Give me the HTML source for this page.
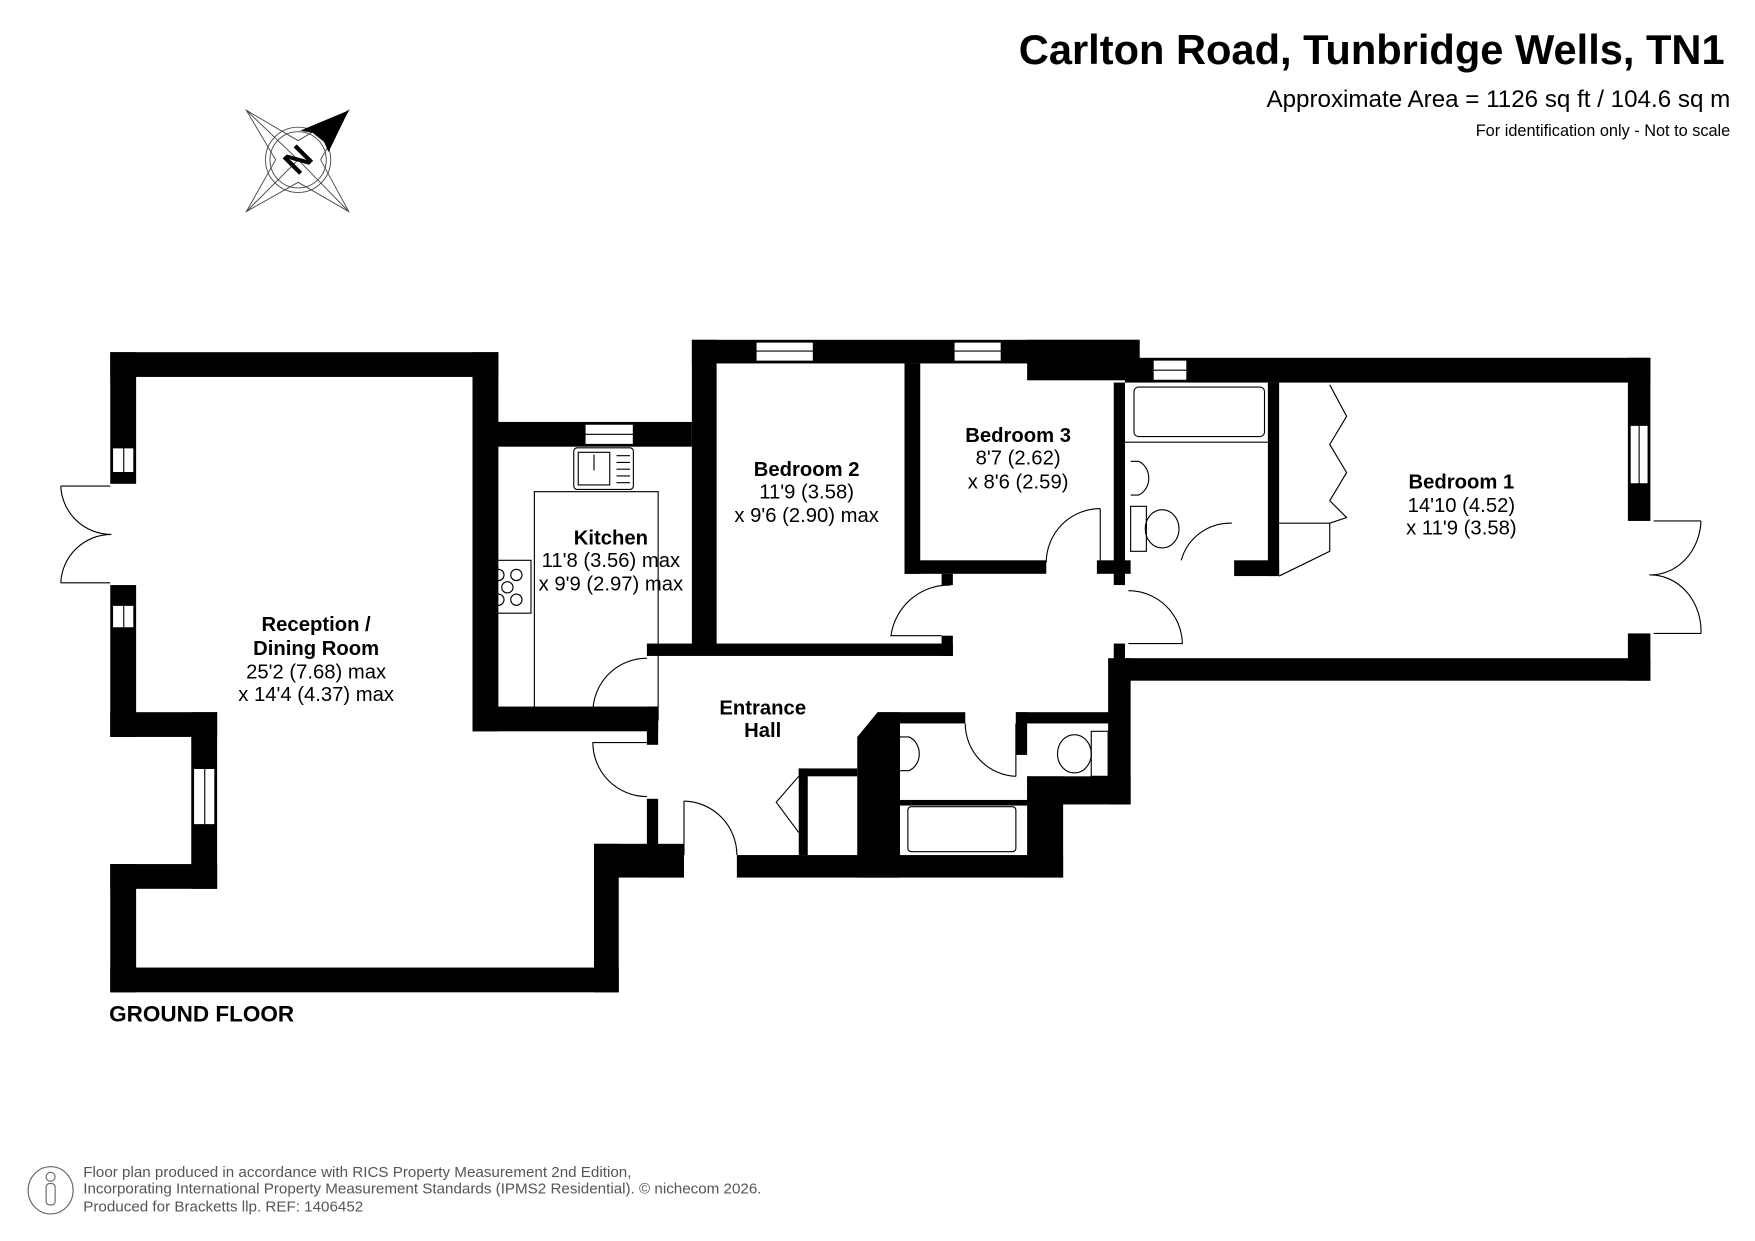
<!DOCTYPE html>
<html><head><meta charset="utf-8"><style>
html,body{margin:0;padding:0;background:#fff}
svg{display:block}
text{font-family:"Liberation Sans",Arial,sans-serif}
</style></head><body>
<svg width="1755" height="1241" viewBox="0 0 1560 1103" xmlns="http://www.w3.org/2000/svg">
<rect width="1560" height="1103" fill="#fff"/>
<!-- titles -->
<text x="1533" y="57" font-size="37" font-weight="bold" text-anchor="end">Carlton Road, Tunbridge Wells, TN1</text>
<text x="1538" y="95" font-size="21.5" text-anchor="end">Approximate Area = 1126 sq ft / 104.6 sq m</text>
<text x="1538" y="121" font-size="14.5" text-anchor="end">For identification only - Not to scale</text>
<!-- compass -->
<g stroke="#444" stroke-width="0.8" fill="none">
<polygon points="219,98 265,125 310,98 285,142 310,188 265,162 219,188 245,142"/>
<line x1="219" y1="98" x2="265" y2="142"/><line x1="219" y1="188" x2="265" y2="142"/>
<line x1="310" y1="188" x2="265" y2="142"/>
<circle cx="265" cy="142" r="29"/><circle cx="265" cy="142" r="25"/>
</g>
<polygon points="267,116 310,98 292,135 288,126 278,118" fill="#000"/>
<text x="265" y="152" font-size="30" font-weight="bold" text-anchor="middle" transform="rotate(-45 265 142)">N</text>
<!-- walls -->
<g fill="#000">
<rect x="98" y="313" width="345" height="22"/>
<rect x="98" y="313" width="23" height="117"/>
<rect x="98" y="520" width="23" height="135"/>
<rect x="98" y="633" width="95" height="22"/>
<rect x="170" y="633" width="23" height="157"/>
<rect x="98" y="768" width="95" height="22"/>
<rect x="98" y="768" width="23" height="114"/>
<rect x="98" y="860" width="452" height="22"/>
<rect x="528" y="750" width="22" height="132"/>
<rect x="528" y="750" width="80" height="30"/>
<rect x="575" y="710" width="10" height="70"/>
<rect x="420" y="313" width="23" height="337"/>
<rect x="420" y="375" width="195" height="22"/>
<rect x="420" y="628" width="165" height="22"/>
<rect x="575" y="628" width="10" height="34"/>
<rect x="615" y="302" width="22" height="280"/>
<rect x="575" y="572" width="272" height="11"/>
<rect x="837" y="565" width="10" height="18"/>
<rect x="615" y="302" width="398" height="21"/>
<rect x="913" y="302" width="100" height="36"/>
<rect x="804" y="323" width="14" height="187"/>
<rect x="804" y="498" width="126" height="12"/>
<rect x="837" y="510" width="10" height="10"/>
<rect x="975" y="498" width="30" height="12"/>
<rect x="990" y="340" width="10" height="180"/>
<rect x="1000" y="318" width="467" height="22"/>
<rect x="1127" y="340" width="10" height="172"/>
<rect x="1097" y="498" width="40" height="14"/>
<rect x="1447" y="318" width="20" height="145"/>
<rect x="1447" y="563" width="20" height="42"/>
<rect x="1000" y="585" width="467" height="20"/>
<rect x="985" y="585" width="20" height="130"/>
<rect x="990" y="572" width="10" height="15"/>
<polygon points="762,655 780,633 800,633 800,780 762,780"/>
<rect x="780" y="633" width="78" height="10"/>
<rect x="903" y="633" width="100" height="10"/>
<rect x="903" y="633" width="10" height="38"/>
<rect x="913" y="690" width="32" height="90"/>
<rect x="913" y="690" width="92" height="25"/>
<rect x="655" y="760" width="290" height="20"/>
<rect x="710" y="683" width="8" height="77"/>
<rect x="710" y="683" width="52" height="7"/>
<rect x="800" y="711" width="113" height="5"/>
<rect x="585" y="760" width="23" height="20"/>
</g>
<!-- windows -->
<g fill="#fff" stroke="#000" stroke-width="1">
<rect x="100" y="398" width="19" height="22"/><line x1="110" y1="398" x2="110" y2="420"/>
<rect x="100" y="538" width="19" height="20"/><line x1="110" y1="538" x2="110" y2="558"/>
<rect x="172" y="683" width="19" height="50"/><line x1="182" y1="683" x2="182" y2="733"/>
<rect x="520" y="377" width="43" height="18"/><line x1="520" y1="386" x2="563" y2="386"/>
<rect x="672" y="304" width="51" height="17"/><line x1="672" y1="312" x2="723" y2="312"/>
<rect x="848" y="304" width="42" height="17"/><line x1="848" y1="312" x2="890" y2="312"/>
<rect x="1025" y="320" width="30" height="18"/><line x1="1025" y1="329" x2="1055" y2="329"/>
<rect x="1449" y="378" width="16" height="52"/><line x1="1457" y1="378" x2="1457" y2="430"/>
</g>
<!-- fixtures & doors -->
<g fill="none" stroke="#000" stroke-width="1">
<rect x="475" y="437" width="110" height="203"/>
<rect x="510" y="398" width="53" height="37" rx="3"/><rect x="514" y="402" width="28" height="29"/>
<path d="M528,404 V418 M548,405 H560 M548,411 H560 M548,417 H560 M548,423 H560 M548,429 H560"/>
<g transform="translate(433,498)"><rect width="39" height="47"/><circle cx="10" cy="13" r="5"/><circle cx="26" cy="13" r="5"/><circle cx="18" cy="24" r="5"/><circle cx="10" cy="35" r="5"/><circle cx="26" cy="35" r="5"/></g>
<path d="M54,432 H98 M54,518 H98 M54,432 A45,45 0 0 0 99,475 M54,518 A45,45 0 0 1 99,475"/>
<path d="M575,585 A48,48 0 0 0 527,633 H575 M575,660 H527 A48,48 0 0 0 575,708"/>
<path d="M608,712 A48,48 0 0 1 655,760 M608,712 V760"/>
<path d="M845,520 A52,52 0 0 0 792,565 H837"/>
<path d="M978,452 A48,48 0 0 0 930,500 M978,452 V498"/>
<path d="M1003,525 A48,48 0 0 1 1051,572 H1003"/>
<path d="M1095,465 A45,45 0 0 0 1050,498"/>
<path d="M858,643 A47,47 0 0 0 903,690 M903,643 V690"/>
<path d="M1470,463 H1512 M1470,563 H1512 M1512,463 A45,50 0 0 1 1466,511 M1512,563 A45,50 0 0 0 1466,511"/>
<path d="M710,690 L690,713 L710,740"/>
<rect x="1008" y="344" width="116" height="44" rx="4"/>
<line x1="1000" y1="393" x2="1127" y2="393"/>
<path d="M1005,410 H1012 A14,16 0 0 1 1012,440 H1005"/>
<rect x="1005" y="450" width="14" height="40"/><ellipse cx="1033" cy="470" rx="15" ry="17"/>
<rect x="807" y="717" width="96" height="40" rx="3"/>
<path d="M800,655 H808 A14,16 0 0 1 808,685 H800"/>
<rect x="970" y="650" width="15" height="40"/><ellipse cx="955" cy="670" rx="15" ry="17"/>
<path d="M1182,342 L1197,370 L1182,395 L1197,420 L1182,445 L1197,460 L1182,465"/>
<path d="M1137,465 H1182 V490 L1137,512"/>
</g>
<!-- labels -->
<g font-size="18" text-anchor="middle">
<text x="281" y="561" font-weight="bold">Reception /</text>
<text x="281" y="582" font-weight="bold">Dining Room</text>
<text x="281" y="603">25'2 (7.68) max</text>
<text x="281" y="623">x 14'4 (4.37) max</text>
<text x="543" y="484" font-weight="bold">Kitchen</text>
<text x="543" y="504">11'8 (3.56) max</text>
<text x="543" y="525">x 9'9 (2.97) max</text>
<text x="717" y="423" font-weight="bold">Bedroom 2</text>
<text x="717" y="443">11'9 (3.58)</text>
<text x="717" y="464">x 9'6 (2.90) max</text>
<text x="905" y="393" font-weight="bold">Bedroom 3</text>
<text x="905" y="413">8'7 (2.62)</text>
<text x="905" y="434">x 8'6 (2.59)</text>
<text x="1299" y="434" font-weight="bold">Bedroom 1</text>
<text x="1299" y="455">14'10 (4.52)</text>
<text x="1299" y="475">x 11'9 (3.58)</text>
<text x="678" y="635" font-weight="bold">Entrance</text>
<text x="678" y="655" font-weight="bold">Hall</text>
</g>
<text x="97" y="908" font-size="20" font-weight="bold">GROUND FLOOR</text>
<!-- footer -->
<ellipse cx="45" cy="1058" rx="20" ry="21" fill="none" stroke="#666" stroke-width="1"/>
<circle cx="45" cy="1046" r="4" fill="none" stroke="#666"/>
<rect x="41" y="1052" width="8" height="19" rx="3" fill="none" stroke="#666"/>
<g font-size="13.5" fill="#555">
<text x="74" y="1046">Floor plan produced in accordance with RICS Property Measurement 2nd Edition,</text>
<text x="74" y="1061">Incorporating International Property Measurement Standards (IPMS2 Residential).   © nichecom 2026.</text>
<text x="74" y="1077">Produced for Bracketts llp.   REF:  1406452</text>
</g>
</svg>
</body></html>
